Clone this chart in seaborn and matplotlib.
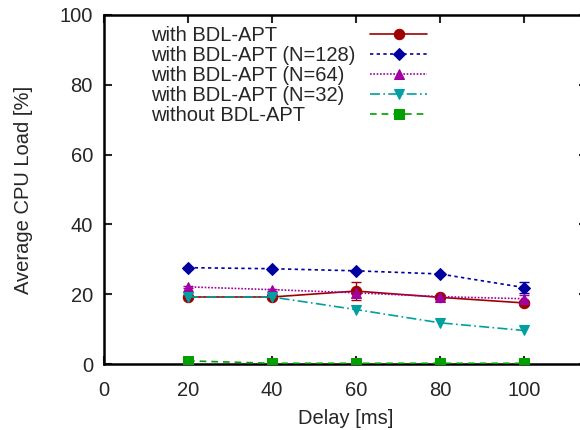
import matplotlib
matplotlib.use("Agg")
import matplotlib.pyplot as plt
import seaborn as sns
import pandas as pd

delays = [20, 40, 60, 80, 100]
with_bdl = [19.2, 19.2, 20.9, 19.1, 17.5]
with_bdl_err = [0.3, 0.3, 2.7, 0.4, 0.6]
n128 = [27.6, 27.3, 26.7, 25.8, 21.9]
n128_err = [0.3, 0.3, 0.3, 0.4, 1.5]
n64 = [22.1, 21.3, 20.4, 19.3, 18.7]
n64_err = [0.3, 0.3, 0.3, 0.3, 1.0]
n32 = [19.2, 19.2, 15.6, 11.8, 9.6]
without = [0.9, 0.2, 0.2, 0.2, 0.2]

labels = ["with BDL-APT", "with BDL-APT (N=128)", "with BDL-APT (N=64)",
          "with BDL-APT (N=32)", "without BDL-APT"]
series = [with_bdl, n128, n64, n32, without]
errs = [with_bdl_err, n128_err, n64_err, None, None]
colors = ["#a00000", "#0000a0", "#a000a0", "#00a0a0", "#00a000"]
markers = ["o", "D", "^", "v", "s"]
msizes = [7.5, 6, 7, 7, 7.5]
dashes = [(None, None), (2, 2), (1, 1), (6, 2, 1, 2), (4, 3)]

sns.set_style("ticks")
plt.rcParams["font.family"] = ["Liberation Sans", "DejaVu Sans"]

fig = plt.figure(figsize=(5.8, 4.3), dpi=100)
ax = fig.add_axes([104 / 580, 66 / 430, 483 / 580, 349 / 430])

handles = []
for lab, ys, er, c, m, ms, d in zip(labels, series, errs, colors, markers, msizes, dashes):
    df = pd.DataFrame({"x": delays, "y": ys})
    sns.lineplot(data=df, x="x", y="y", ax=ax, color=c, marker=m, markersize=ms,
                 markeredgecolor=c, linewidth=1.2, label=lab, legend=False, zorder=3)
    line = ax.lines[-1]
    if d != (None, None):
        line.set_dashes(d)
    handles.append(line)
    if er is not None:
        ax.errorbar(delays, ys, yerr=er, fmt="none", ecolor=c, elinewidth=1.0,
                    capsize=3.5, capthick=1.0, zorder=2)

ax.set_xlim(0, 115)
ax.set_ylim(0, 100)
ax.set_xticks([0, 20, 40, 60, 80, 100])
ax.set_yticks([0, 20, 40, 60, 80, 100])
ax.set_xlabel("Delay [ms]", fontsize=14.5, labelpad=7)
ax.set_ylabel("Average CPU Load [%]", fontsize=14.5, labelpad=19)
ax.tick_params(axis="both", direction="in", length=5.5, width=1.5, labelsize=14.5,
               top=True, right=True)
ax.tick_params(axis="x", pad=12)
ax.tick_params(axis="y", pad=8)
for s in ax.spines.values():
    s.set_linewidth(1.8)
    s.set_color("black")

# legend: labels (left-aligned) and line samples (aligned column), as in the reference
leg_kw = dict(loc="upper left", frameon=False, fontsize=14.5, labelspacing=0.05,
              borderpad=0, borderaxespad=0)
leg1 = fig.legend(handles=handles, labels=labels, bbox_to_anchor=(151.5 / 580, 1 - 26.3 / 430),
                  handlelength=0, handletextpad=0, **leg_kw)
for h in leg1.legend_handles:
    h.set_visible(False)
leg2 = fig.legend(handles=handles, labels=[""] * 5, bbox_to_anchor=(370 / 580, 1 - 26.3 / 430),
                  handlelength=2.84, handletextpad=0, **leg_kw)

fig.savefig("out.png", dpi=100)
